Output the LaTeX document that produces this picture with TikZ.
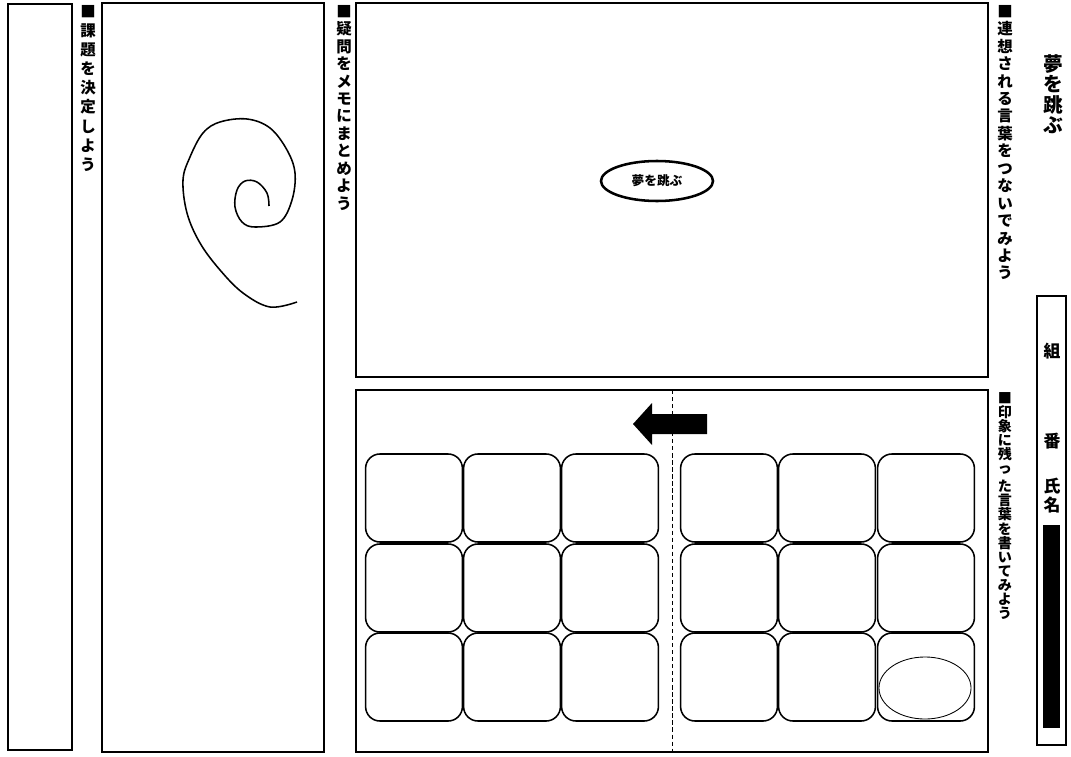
\documentclass[tikz,border=0pt]{standalone}
\usepackage{fontspec}
\setmainfont{Noto Sans CJK JP}
\usetikzlibrary{shapes.geometric}

\begin{document}
\begin{tikzpicture}[
    x=0.025cm, y=-0.025cm,
    panel/.style={draw, line width=1.3pt},
    cell/.style={draw, line width=1.1pt, rounded corners=0.36cm, minimum width=2.42cm, minimum height=2.2cm, inner sep=0pt},
    vlbl/.style={anchor=north, align=center, inner sep=0pt, font=\bfseries\fontsize{11}{12.4}\selectfont}
]
\useasboundingbox (0,0) rectangle (1071,756);

% Panels
\draw[panel] (8,4) rectangle (72,750);
\draw[panel] (102,3) rectangle (324,752);
\draw[panel] (356,3) rectangle (988,377);
\draw[panel] (356,390) rectangle (988,752);

% Panel headings (vertical)
\node[vlbl, font=\bfseries\fontsize{11}{13.6}\selectfont] (hTopic) at (88,5) {■\\課\\題\\を\\決\\定\\し\\よ\\う};
\node[vlbl] (hMemo) at (344,5) {■\\疑\\問\\を\\メ\\モ\\に\\ま\\と\\め\\よ\\う};
\node[vlbl] (hLink) at (1005,5) {■\\連\\想\\さ\\れ\\る\\言\\葉\\を\\つ\\な\\い\\で\\み\\よ\\う};
\node[vlbl, font=\bfseries\fontsize{10}{10}\selectfont] (hWords) at (1005,392) {■\\印\\象\\に\\残\\っ\\[3pt]た\\言\\葉\\を\\書\\い\\て\\み\\よ\\う};

% Title and name box
\node[vlbl, font=\bfseries\fontsize{14}{14.6}\selectfont] (title) at (1053,54) {夢\\を\\跳\\ぶ};
\draw[line width=1.2pt] (1037,296) rectangle (1066,745);
\node[font=\bfseries\fontsize{12}{12}\selectfont, inner sep=0pt] (kumi) at (1052,351) {組};
\node[font=\bfseries\fontsize{12}{12}\selectfont, inner sep=0pt] (ban) at (1052,441) {番};
\node[vlbl, font=\bfseries\fontsize{12}{13}\selectfont] (shimei) at (1052,478) {氏\\名};
\fill (1043,525) rectangle (1060,728);

% Spiral memo
\draw[line width=1.1pt] plot[smooth, tension=0.6] coordinates {(269,206) (267,193) (257,182) (245,181) (237,190) (235,207) (242,222) (255,227) (280,222) (292,200) (295,173) (287,150) (270,128) (247,119) (220,122) (203,133) (190,157) (183,180) (187,213) (200,243) (220,270) (243,293) (270,307) (297,302)};

% Association map
\node[ellipse, draw, line width=1.8pt, minimum width=2.8cm, minimum height=1.0cm, inner sep=0pt, font=\bfseries\fontsize{9}{9}\selectfont] (theme) at (657,181) {夢を跳ぶ};

% Word cells
\fill (633,424) -- (652,403) -- (652,414) -- (707,414) -- (707,434) -- (652,434) -- (652,445) -- cycle;
\draw[densely dashed, line width=0.6pt] (672,390) -- (672,752);

\node[cell] (wL1) at (414,498) {};
\node[cell] (wL2) at (512,498) {};
\node[cell] (wL3) at (610,498) {};
\node[cell] (wL4) at (414,588) {};
\node[cell] (wL5) at (512,588) {};
\node[cell] (wL6) at (610,588) {};
\node[cell] (wL7) at (414,677) {};
\node[cell] (wL8) at (512,677) {};
\node[cell] (wL9) at (610,677) {};

\node[cell] (wR1) at (729,498) {};
\node[cell] (wR2) at (827,498) {};
\node[cell] (wR3) at (926,498) {};
\node[cell] (wR4) at (729,588) {};
\node[cell] (wR5) at (827,588) {};
\node[cell] (wR6) at (926,588) {};
\node[cell] (wR7) at (729,677) {};
\node[cell] (wR8) at (827,677) {};
\node[cell] (wR9) at (926,677) {};

\node[ellipse, draw, line width=0.6pt, minimum width=2.3cm, minimum height=1.55cm] (pick) at (925,688) {};

\end{tikzpicture}
\end{document}
